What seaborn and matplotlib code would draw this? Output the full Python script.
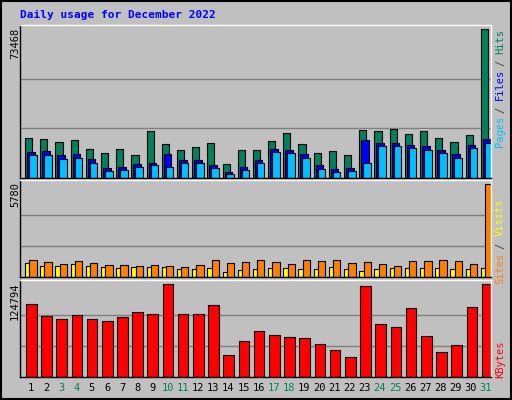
import matplotlib
matplotlib.use("Agg")
import matplotlib.pyplot as plt
import seaborn as sns
import numpy as np

days = list(range(1, 32))
weekend = [3, 4, 10, 11, 17, 18, 24, 25, 31]
hits = [19612, 19113, 17617, 18614, 14127, 12133, 14127, 11135, 23102, 16620, 13628, 15124, 17119, 7147, 13628, 13628,
        18116, 22105, 16620, 12133, 13130, 11135, 23600, 23102, 24099, 21606, 23102, 19612, 17617, 21107, 73468]
files = [12631, 13130, 11135, 11634, 9640, 5152, 5651, 7147, 7645, 11634, 9141, 9141, 6648, 3158, 5651, 9141,
         14127, 13628, 11634, 6648, 4654, 5152, 18614, 17119, 17119, 16121, 15623, 13628, 11634, 16121, 19113]
pages = [11135, 11135, 9640, 10138, 7645, 3656, 4155, 5651, 6648, 5651, 7645, 7645, 5152, 2161, 4155, 7645,
         12631, 12133, 10138, 4654, 3158, 3656, 7645, 15623, 15623, 14626, 13628, 12133, 10138, 14626, 17119]
visits = [1068, 942, 817, 1005, 880, 754, 754, 691, 754, 691, 628, 754, 1068, 880, 942, 1068,
          942, 817, 1068, 1005, 1068, 880, 942, 817, 691, 1005, 1005, 1068, 1005, 817, 5780]
sites = [880, 691, 691, 817, 691, 628, 565, 628, 628, 628, 503, 503, 565, 314, 440, 503,
         565, 565, 503, 503, 628, 503, 377, 503, 565, 565, 565, 565, 503, 503, 565]
kbytes = [98822, 82427, 78329, 83794, 78329, 75596, 81061, 87892, 85160, 124794, 85160, 85160, 97456, 29146, 48272, 61934,
          56470, 53737, 52371, 44174, 35977, 26413, 122046, 71498, 67399, 93357, 55103, 33244, 42808, 94724, 124794]

sns.set_theme(style="white")
plt.rcParams['font.family'] = ['DejaVu Sans Mono', 'DejaVu Sans']

GREEN = "#00805C"; BLUE = "#0000FF"; CYAN = "#00C0FF"
YEL = "#FFFF00"; ORG = "#FF8000"; RED = "#FF0000"; BG = "#C0C0C0"

W, H = 512, 400
fig = plt.figure(figsize=(W/100, H/100), dpi=100, facecolor=BG)
fig.patches.append(plt.Rectangle((0.002, 0.002), 0.996, 0.996, transform=fig.transFigure,
                                 fill=False, ec="black", lw=1.5))

def axes_px(x0, y0, x1, y1):
    return fig.add_axes([x0/W, 1 - y1/H, (x1 - x0)/W, (y1 - y0)/H])

x = np.arange(31)

def style(ax, ymax, f):
    ax.set_facecolor(BG)
    ax.set_xlim(0, 31)
    ax.set_ylim(0, ymax * f)
    for v in (ymax/3, 2*ymax/3):
        ax.axhline(v, color="#808080", lw=1, zorder=0)
    ax.set_xticks([]); ax.set_yticks([])
    for s in ax.spines.values():
        s.set_color("black"); s.set_linewidth(1)
    ax.spines['top'].set_color("white")
    ax.spines['right'].set_color("white")

kw = dict(align="edge", edgecolor="black", linewidth=0.8)

ax1 = axes_px(20, 25, 491, 178)
style(ax1, max(hits), 1.03)
ax1.bar(x + 0.33, hits, 0.47, color=GREEN, **kw)
ax1.bar(x + 0.46, files, 0.50, color=BLUE, **kw)
ax1.bar(x + 0.59, pages, 0.50, color=CYAN, **kw)

ax2 = axes_px(20, 180, 491, 277)
style(ax2, max(visits), 1.047)
ax2.bar(x + 0.33, sites, 0.28, color=YEL, **kw)
ax2.bar(x + 0.61, visits, 0.48, color=ORG, **kw)

ax3 = axes_px(20, 280, 491, 377)
style(ax3, max(kbytes), 1.047)
ax3.bar(x + 0.39, kbytes, 0.70, color=RED, **kw)

tfs = 7.5
fig.text(20/W, 1 - 15/H, "Daily usage for December 2022", color=BLUE, fontsize=8, fontweight="bold",
         va="center", ha="left")

for ymax, ytop in ((max(hits), 28), (max(visits), 182), (max(kbytes), 282)):
    fig.text(15/W, 1 - ytop/H, str(ymax), rotation=90, fontsize=tfs, va="top", ha="center", color="black")

def right_label(parts, ytop):
    y = ytop
    for txt, col in parts:
        t = fig.text(500/W, 1 - y/H, txt, rotation=90, fontsize=tfs, color=col, va="top", ha="center")
        y += len(txt) * 7.2 + 2

right_label([("Hits", GREEN), ("/", "#404040"), ("Files", BLUE), ("/", "#404040"), ("Pages", CYAN)], 29)
right_label([("Visits", YEL), ("/", "#404040"), ("Sites", ORG)], 198)
right_label([("KBytes", RED)], 340)

for i, d in enumerate(days):
    xc = (20 + (i + 0.74) * 470/31) / W
    fig.text(xc, 1 - 388/H, str(d), fontsize=tfs, ha="center", va="center",
             color=GREEN if d in weekend else "black")

fig.savefig("out.png", dpi=100, facecolor=BG)
